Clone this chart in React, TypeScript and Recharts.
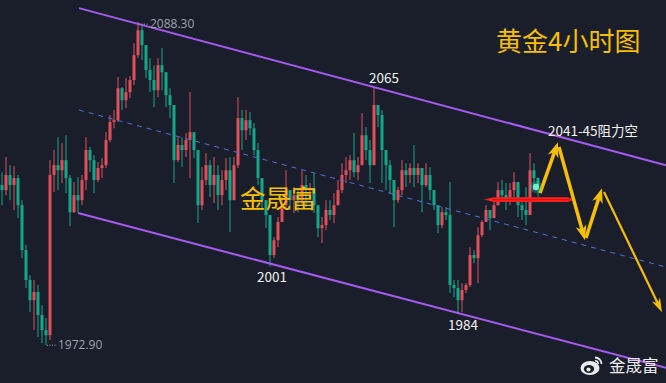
import React from "react"
import { ComposedChart, Bar, XAxis, YAxis, ReferenceLine, ReferenceDot } from "recharts"

// 4h gold candles left to right (open = previous close)
const FIRST_OPEN = 2030.1

const CLOSES = [
  2028.3, 2033.7, 2030.1, 2032.6, 2022.9, 2006.9, 1996.2, 1989.0, 1991.9, 1983.7,
  1978.3, 1976.5, 2033.7, 2037.2, 2035.4, 2039.0, 2032.6, 2020.4, 2026.5, 2024.7,
  2031.9, 2042.6, 2039.0, 2031.9, 2036.2, 2037.2, 2046.2, 2052.6, 2053.3, 2064.7,
  2060.4, 2063.3, 2067.6, 2076.5, 2085.4, 2080.1, 2071.2, 2067.6, 2064.0, 2072.9,
  2070.4, 2062.2, 2058.7, 2039.0, 2044.4, 2042.6, 2046.2, 2049.0, 2042.6, 2022.9,
  2031.9, 2037.2, 2030.1, 2033.7, 2026.5, 2031.9, 2035.4, 2024.7, 2037.2, 2054.0,
  2049.7, 2053.3, 2050.4, 2042.6, 2032.6, 2024.7, 2019.4, 2005.1, 2010.4, 2016.9,
  2022.9, 2028.3, 2024.7, 2026.5, 2024.7, 2030.1, 2028.3, 2029.0, 2022.9, 2014.7,
  2015.8, 2021.2, 2019.4, 2022.9, 2028.3, 2033.7, 2035.4, 2039.0, 2034.7, 2037.2,
  2047.9, 2042.6, 2037.2, 2058.7, 2055.1, 2042.6, 2037.2, 2031.9, 2024.7, 2028.3,
  2035.4, 2033.7, 2036.2, 2033.7, 2036.2, 2030.1, 2033.7, 2028.3, 2022.9, 2015.8,
  2020.4, 2019.4, 1994.4, 1993.3, 1989.0, 1992.6, 1994.4, 2005.1, 2004.0, 2012.2,
  2016.9, 2021.2, 2018.3, 2022.9, 2028.3, 2026.5, 2024.7, 2028.3, 2031.2, 2022.9,
  2021.2, 2019.4, 2035.4, 2032.6, 2030.1,
]

const HIGHS = [
  2034.7, 2040.1, 2037.2, 2036.9, 2033.7, 2024.7, 2008.7, 1997.9, 1996.2, 1994.4,
  1987.2, 1982.6, 2039.0, 2042.6, 2047.2, 2045.1, 2047.9, 2033.7, 2031.2, 2032.9,
  2033.7, 2047.2, 2043.7, 2040.8, 2038.3, 2039.7, 2049.0, 2055.1, 2056.9, 2068.7,
  2065.1, 2068.3, 2069.0, 2080.8, 2088.3, 2087.2, 2080.1, 2075.4, 2072.9, 2075.4,
  2079.0, 2069.4, 2064.7, 2058.7, 2047.2, 2047.2, 2048.7, 2063.3, 2047.9, 2039.0,
  2036.5, 2041.5, 2039.0, 2040.1, 2037.2, 2035.4, 2039.7, 2040.1, 2040.1, 2061.5,
  2056.9, 2056.9, 2056.2, 2052.2, 2045.1, 2031.9, 2022.9, 2018.7, 2011.5, 2018.7,
  2025.8, 2035.4, 2027.2, 2029.4, 2029.0, 2035.4, 2033.7, 2030.8, 2034.4, 2021.2,
  2018.7, 2024.7, 2024.7, 2027.2, 2031.9, 2037.9, 2040.1, 2040.8, 2048.7, 2040.1,
  2055.8, 2050.8, 2046.2, 2065.0, 2057.9, 2056.9, 2042.6, 2039.0, 2029.4, 2029.4,
  2039.0, 2037.9, 2037.9, 2044.4, 2037.9, 2035.4, 2037.9, 2036.5, 2028.3, 2022.2,
  2022.2, 2022.2, 2031.2, 1996.2, 1996.2, 1995.1, 1995.1, 2007.9, 2006.9, 2015.1,
  2017.6, 2022.9, 2021.2, 2024.7, 2031.2, 2031.9, 2030.8, 2030.8, 2034.7, 2029.4,
  2024.7, 2029.4, 2041.5, 2037.9, 2032.9,
]

const LOWS = [
  2022.9, 2026.5, 2024.7, 2021.2, 2018.3, 2004.0, 1993.3, 1984.7, 1978.3, 1975.8,
  1973.7, 1972.9, 1974.7, 2027.6, 2028.3, 2030.8, 2027.2, 2015.4, 2020.1, 2020.4,
  2022.9, 2028.3, 2034.7, 2027.2, 2031.2, 2032.6, 2036.2, 2045.4, 2050.4, 2052.6,
  2056.9, 2057.6, 2061.2, 2065.8, 2075.4, 2074.7, 2068.3, 2063.3, 2057.9, 2061.5,
  2064.0, 2057.9, 2054.0, 2030.8, 2038.3, 2036.5, 2040.1, 2032.6, 2039.7, 2016.5,
  2021.2, 2030.1, 2025.8, 2023.7, 2021.2, 2022.9, 2028.3, 2013.3, 2031.9, 2036.2,
  2042.6, 2046.2, 2047.9, 2040.8, 2030.1, 2021.2, 2014.7, 2001.0, 2004.0, 2007.9,
  2016.9, 2021.2, 2021.2, 2020.1, 2020.4, 2022.9, 2022.2, 2024.7, 2020.1, 2011.5,
  2009.4, 2014.0, 2017.6, 2016.5, 2024.7, 2027.2, 2030.8, 2031.9, 2032.9, 2031.9,
  2039.0, 2039.0, 2030.8, 2042.6, 2050.8, 2030.8, 2028.3, 2027.2, 2015.1, 2023.7,
  2026.5, 2029.4, 2030.8, 2029.4, 2030.8, 2020.4, 2029.4, 2024.7, 2021.2, 2012.9,
  2014.7, 2017.6, 1991.5, 1990.1, 1984.0, 1984.7, 1991.5, 1993.7, 2002.2, 1995.1,
  2011.5, 2017.6, 2014.0, 2018.7, 2025.8, 2024.7, 2021.2, 2022.9, 2025.8, 2018.7,
  2017.6, 2015.8, 2019.4, 2028.3, 2025.8,
]

// channel + drawn annotations, in (bar index, price)
const UPPER_LINE = [[19.25, 2093.3], [166, 2037.2]]
const MID_LINE = [[19.25, 2056.9], [166, 2000.8]]
const LOWER_LINE = [[19, 2020.1], [166, 1964.8]]
const RESIST_LINE = [[120.5, 2024.9], [143, 2024.9]]
const ARROWS = [
  [[134.5, 2027.2], [139, 2045.4]],
  [[139.25, 2043.7], [145.75, 2010.4]],
  [[146, 2011.2], [150, 2029.0]],
  [[150.5, 2027.6], [165, 1984.7]],
]
const LAST_PRICE = [133.5, 2029.4]

const BG = "#1a1e2b"
const RED = "#e0505c"
const TEAL = "#14a88b"
const PURPLE = "#a65af0"
const GOLD = "#f7bf00"
const CJK = '"Noto Sans CJK SC", "Noto Sans", sans-serif'

const candles = CLOSES.map((close, i) => {
  const open = i === 0 ? FIRST_OPEN : CLOSES[i - 1]
  const high = Math.max(HIGHS[i], open, close)
  const low = Math.min(LOWS[i], open, close)
  return { i, open, close, high, low, range: [low, high] }
})

function Candle(props: any) {
  const { x, y, width, height, payload } = props
  const { open, close, high, low } = payload
  const color = close >= open ? RED : TEAL
  const top = Math.min(y, y + height)
  const h = Math.abs(height)
  const ppu = high > low ? h / (high - low) : 0
  const bodyTop = top + (high - Math.max(open, close)) * ppu
  const bodyH = Math.max(1, Math.abs(close - open) * ppu)
  const cx = Math.round(x + width / 2)
  return (
    <g>
      <rect x={cx - 0.5} y={top} width={1} height={h} fill={color} />
      <rect x={cx - 1.5} y={bodyTop} width={3} height={bodyH} fill={color} />
    </g>
  )
}

function arrowShape(shaft: number, headW: number, headL: number) {
  return (p: any) => {
    const { x1, y1, x2, y2 } = p
    const len = Math.hypot(x2 - x1, y2 - y1) || 1
    const ux = (x2 - x1) / len
    const uy = (y2 - y1) / len
    const nx = -uy
    const ny = ux
    const bx = x2 - ux * headL
    const by = y2 - uy * headL
    const kx = x2 - ux * headL * 0.7
    const ky = y2 - uy * headL * 0.7
    const pts = [
      [x2, y2],
      [bx + (nx * headW) / 2, by + (ny * headW) / 2],
      [kx, ky],
      [bx - (nx * headW) / 2, by - (ny * headW) / 2],
    ]
    return (
      <g>
        <line x1={x1} y1={y1} x2={kx} y2={ky} stroke={GOLD} strokeWidth={shaft} />
        <polygon points={pts.map((q) => q.join(",")).join(" ")} fill={GOLD} />
      </g>
    )
  }
}

function resistShape(p: any) {
  const { x1, y1, x2 } = p
  const d = `M${x1},${y1} L${x1 + 10},${y1 - 2.4} L${x2 - 6},${y1 - 2.4} L${x2},${y1} L${x2 - 6},${y1 + 2.4} L${x1 + 10},${y1 + 2.4} Z`
  return (
    <g>
      <path d={d} fill="#ff1f1f" />
      <line x1={x1 + 8} x2={x2 - 4} y1={y1} y2={y1} stroke="#c81010" strokeWidth={0.8} />
    </g>
  )
}

function glowDot(p: any) {
  return (
    <g>
      <circle cx={p.cx} cy={p.cy} r={6} fill="#20d0aa" opacity={0.3} />
      <circle cx={p.cx} cy={p.cy} r={3.2} fill="#6ff0d2" />
    </g>
  )
}

// dotted leader + grey price (max / min markers)
function extremeLabel(text: string, dy: number) {
  return (p: any) => {
    const { x, y } = p.viewBox
    return (
      <g>
        <line x1={x + 1} x2={x + 10} y1={y + dy} y2={y + dy} stroke="#9ea3ad" strokeWidth={1} strokeDasharray="1 1.5" />
        <text x={x + 12} y={y + dy + 4} fill="#9ea3ad" fontSize={12} fontFamily='"Open Sans", sans-serif'>
          {text}
        </text>
      </g>
    )
  }
}

function noteLabel(text: string, dx: number, dy: number) {
  return (p: any) => {
    const { x, y } = p.viewBox
    return (
      <text x={x + dx} y={y + dy} fill="#f2f2f2" fontSize={13.5} fontFamily={CJK} textAnchor="middle" dominantBaseline="central">
        {text}
      </text>
    )
  }
}

const seg = (s: number[][]) => s.map(([x, y]) => ({ x, y }))

export default function App() {
  return (
    <div style={{ position: "fixed", left: 0, top: 0, width: 666, height: 383, background: BG, overflow: "hidden" }}>
      <ComposedChart width={666} height={383} data={candles} margin={{ top: 0, right: 0, bottom: 0, left: 0 }}>
        <XAxis dataKey="i" type="number" domain={[-0.5, 166]} hide />
        <YAxis type="number" domain={[1959.4, 2096.2]} hide allowDataOverflow />
        <Bar dataKey="range" barSize={3} shape={<Candle />} isAnimationActive={false} />

        <ReferenceLine segment={seg(MID_LINE)} stroke="#4f73d8" strokeWidth={1} strokeDasharray="5 5" />
        <ReferenceLine segment={seg(UPPER_LINE)} stroke={PURPLE} strokeWidth={2} />
        <ReferenceLine segment={seg(LOWER_LINE)} stroke={PURPLE} strokeWidth={2} />
        <ReferenceLine segment={seg(RESIST_LINE)} shape={resistShape} />

        {ARROWS.map((a, k) => (
          <ReferenceLine
            key={k}
            segment={seg(a)}
            shape={k === 3 ? arrowShape(2.2, 9, 14) : arrowShape(3.5, 11, 15)}
          />
        ))}

        <ReferenceDot x={LAST_PRICE[0]} y={LAST_PRICE[1]} r={3} shape={glowDot} />

        <ReferenceDot x={34} y={2088.3} r={0} fill="none" stroke="none" label={extremeLabel("2088.30", 2)} />
        <ReferenceDot x={11} y={1972.9} r={0} fill="none" stroke="none" label={extremeLabel("1972.90", 0)} />
        <ReferenceDot x={93} y={2065} r={0} fill="none" stroke="none" label={noteLabel("2065", 10, -10)} />
        <ReferenceDot x={67} y={2001} r={0} fill="none" stroke="none" label={noteLabel("2001", 2, 9)} />
        <ReferenceDot x={114} y={1984} r={0} fill="none" stroke="none" label={noteLabel("1984", 5, 10)} />
        <ReferenceDot x={139} y={2045.4} r={0} fill="none" stroke="none" label={noteLabel("2041-45阻力空", 35, -12)} />
      </ComposedChart>

      <div style={{ position: "absolute", left: 496, top: 27, color: GOLD, fontSize: 26, lineHeight: 1, fontFamily: CJK, whiteSpace: "nowrap" }}>
        黄金4小时图
      </div>
      <div style={{ position: "absolute", left: 240, top: 184, color: GOLD, fontSize: 25.5, lineHeight: 1, fontFamily: CJK, whiteSpace: "nowrap" }}>
        金晟富
      </div>
      <div style={{ position: "absolute", left: 580, top: 355, display: "flex", alignItems: "center", gap: 5 }}>
        <svg width={24} height={21} viewBox="0 0 24 21">
          <ellipse cx={10} cy={13} rx={9.5} ry={7} fill="#ececec" />
          <ellipse cx={9} cy={14} rx={5.2} ry={4} fill={BG} />
          <circle cx={8.5} cy={14.5} r={2} fill="#ececec" />
          <path d="M15 2.5 a6.5 6.5 0 0 1 6.5 6.5" stroke="#ececec" strokeWidth={1.8} fill="none" />
          <path d="M15 5.8 a3.2 3.2 0 0 1 3.2 3.2" stroke="#ececec" strokeWidth={1.6} fill="none" />
        </svg>
        <span style={{ color: "#ececec", fontSize: 16.5, lineHeight: 1, fontFamily: CJK }}>金晟富</span>
      </div>
    </div>
  )
}
